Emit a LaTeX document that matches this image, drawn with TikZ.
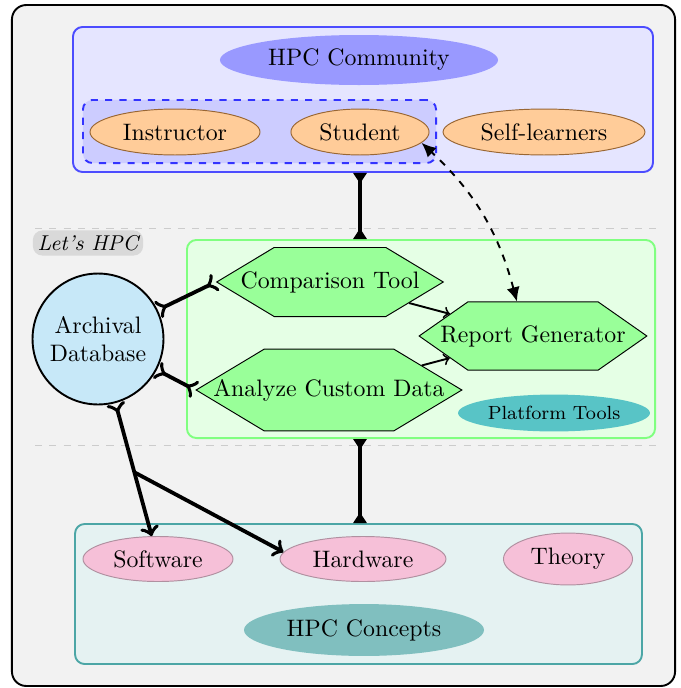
\documentclass[tikz,border=0pt]{standalone}
\usetikzlibrary{arrows.meta,shapes.geometric,shapes.symbols}
\definecolor{dbblue}{RGB}{199,232,248}
\definecolor{toolteal}{RGB}{88,196,198}
\definecolor{conceptpink}{RGB}{246,192,216}
\definecolor{conceptedge}{RGB}{176,144,160}

\begin{document}
\begin{tikzpicture}[x=0.42pt, y=0.42pt, >={Classical TikZ Rightarrow},
    framebox/.style={rectangle, rounded corners=4pt, thick, inner sep=0pt},
    grouptitle/.style={ellipse, inner sep=0pt},
    person/.style={ellipse, draw=brown!80!black, fill=orange!40, inner sep=0pt, minimum height=19.3pt},
    tool/.style={signal, signal to=east and west, signal pointer angle=62, draw, fill=green!40, inner ysep=0pt},
    concept/.style={ellipse, draw=conceptedge, fill=conceptpink, inner sep=0pt, minimum height=18.9pt},
    flare/.tip={Stealth[reversed, length=4.5pt, width=5.5pt, inset=0pt]},
    bridge/.style={line width=2pt, {flare}-{flare}},
    feed/.style={line width=1.6pt}]
    \useasboundingbox (0,0) rectangle (681,-688);
    \node[draw, thick, fill=gray!10, rounded corners=6pt, minimum width=278.5pt, minimum height=286pt] (frame) at (343.5,-345.5) {};

    \draw[gray!40, dashed] (35,-228) -- (658,-228);
    \draw[gray!40, dashed] (35,-445) -- (658,-445);

    \node[framebox, draw=blue!70, fill=blue!10, minimum width=243.6pt, minimum height=60.9pt] (community) at (363,-99.5) {};
    \node[framebox, draw=blue!80, fill=blue!20, dashed, minimum width=148.3pt, minimum height=26.5pt] (classroom) at (259.5,-131.5) {};
    \node[framebox, draw=green!50, fill=green!10, minimum width=196.6pt, minimum height=83.2pt] (platform) at (421,-339) {};
    \node[framebox, draw=teal!70, fill=teal!10, minimum width=238.1pt, minimum height=58.8pt] (concepts) at (358.5,-594) {};

    \node[grouptitle, fill=blue!40, minimum width=116.8pt, minimum height=21pt] (hpc) at (359,-60) {HPC Community};
    \node[person, minimum width=71.4pt] (instructor) at (175,-132) {Instructor};
    \node[person, minimum width=58pt] (student) at (360,-132) {Student};
    \node[person, minimum width=84.8pt] (selflearn) at (544,-132) {Self-learners};

    \node[fill=gray!30, rounded corners=4pt, inner sep=2pt, font=\small\itshape] (letshpc) at (88,-243) {Let's HPC};

    \node[tool, inner xsep=-14.1pt, minimum height=29pt] (compare) at (330,-282) {Comparison Tool};
    \node[tool, inner xsep=-21.4pt, minimum height=34.4pt] (analyze) at (329,-390) {Analyze Custom Data};
    \node[tool, signal pointer angle=70, inner xsep=-11.5pt, minimum height=28.6pt] (report) at (533,-336) {Report Generator};
    \node[grouptitle, fill=toolteal, minimum width=80.6pt, minimum height=15.5pt, font=\footnotesize] (ptools) at (554,-413) {Platform Tools};

    \node[circle, draw, thick, fill=dbblue, minimum size=55pt, inner sep=0pt, align=center] (db) at (98,-339) {Archival\\Database};

    \node[concept, minimum width=63pt] (software) at (158,-559) {Software};
    \node[concept, minimum width=69.7pt] (hardware) at (363,-559) {Hardware};
    \node[concept, minimum width=54.2pt, minimum height=21.8pt] (theory) at (568,-559) {Theory};
    \node[grouptitle, fill=teal!50, minimum width=100.8pt, minimum height=21.8pt] (hpcconcepts) at (364,-630) {HPC Concepts};

    \draw[bridge] (student |- community.south) -- (student |- platform.north);
    \draw[bridge] (student |- platform.south) -- (student |- concepts.north);
    \draw[feed, >-<] (db) -- (compare.west);
    \draw[feed, >-<] (db) -- (analyze.west);
    \draw[feed, >->] (db) -- coordinate[pos=0.52] (split) (software);
    \draw[feed, ->] (split) -- (hardware.175);
    \draw[thick, ->] (compare) -- (report);
    \draw[thick, ->] (analyze) -- (report);
    \draw[thick, dashed, {Latex[length=6pt,width=5.5pt]}-{Latex[length=6pt,width=5.5pt]}] (report.115) to[bend right=16] (student.-10);
\end{tikzpicture}
\end{document}
